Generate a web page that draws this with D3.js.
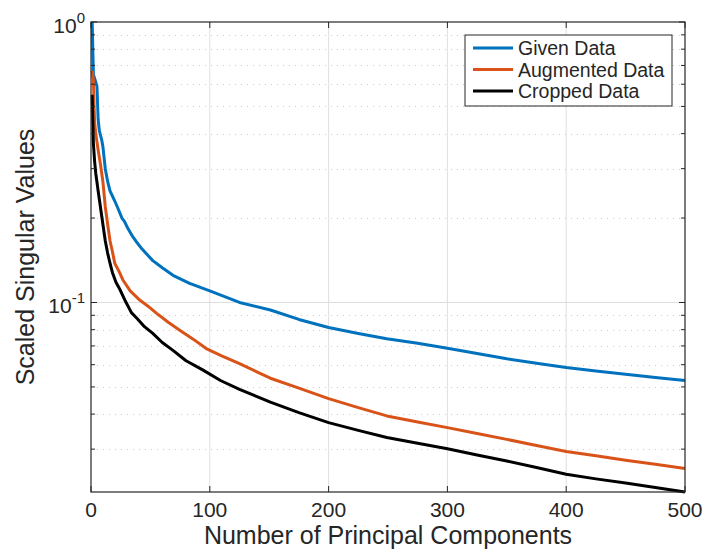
<!DOCTYPE html>
<html>
<head>
<meta charset="utf-8">
<script src="https://cdn.jsdelivr.net/npm/d3@7"></script>
<style>
  body { margin: 0; background: #fff; }
  text { font-family: 'Liberation Sans', Arial, sans-serif; fill: #262626; }
</style>
</head>
<body>
<svg width="707" height="550"></svg>
<script>
const width = 707, height = 550
const margin = { top: 22, right: 22, bottom: 58, left: 91 }

// data: [component, scaled singular value]
const givenData = [
  [1, 1.0], [2, 0.65], [3, 0.63], [5, 0.59], [6, 0.45], [7, 0.41], [9, 0.38], [10, 0.36],
  [12, 0.30], [14, 0.27], [16, 0.25], [20, 0.23], [23, 0.215], [26, 0.20], [28, 0.195],
  [31, 0.184], [35, 0.172], [38, 0.165], [43, 0.155], [48, 0.147], [52, 0.141], [60, 0.133],
  [69, 0.125], [83, 0.117], [100, 0.110], [125, 0.100], [151, 0.094], [175, 0.087],
  [200, 0.0814], [225, 0.0775], [249, 0.0743], [275, 0.0715], [300, 0.0687], [325, 0.0658],
  [350, 0.063], [375, 0.0607], [400, 0.0586], [425, 0.057], [450, 0.0555], [475, 0.054],
  [500, 0.0527]
]
const augmentedData = [
  [1, 0.67], [2, 0.62], [3, 0.44], [4, 0.40], [6, 0.35], [8, 0.31], [10, 0.27], [12, 0.22],
  [14, 0.19], [16, 0.166], [18, 0.152], [20, 0.138], [24, 0.128], [27, 0.12], [33, 0.110],
  [41, 0.102], [48, 0.097], [55, 0.0916], [65, 0.085], [75, 0.0795], [86, 0.074], [97, 0.0685],
  [110, 0.0645], [125, 0.0605], [140, 0.0565], [151, 0.0537], [175, 0.0495], [200, 0.0454],
  [225, 0.0422], [249, 0.0394], [275, 0.0375], [300, 0.0358], [325, 0.0341], [350, 0.0325],
  [375, 0.0309], [400, 0.0294], [425, 0.0284], [450, 0.0274], [475, 0.0265], [500, 0.0256]
]
const croppedData = [
  [1, 0.55], [2, 0.37], [3, 0.32], [4, 0.289], [6, 0.25], [8, 0.218], [10, 0.19], [12, 0.166],
  [14, 0.15], [16, 0.138], [18, 0.128], [21, 0.118], [24, 0.112], [29, 0.101], [34, 0.092],
  [39, 0.0875], [45, 0.082], [52, 0.0776], [60, 0.072], [69, 0.0675], [80, 0.062], [94, 0.0575],
  [109, 0.0527], [125, 0.049], [151, 0.0441], [175, 0.0405], [200, 0.0373], [225, 0.035],
  [249, 0.033], [275, 0.0315], [300, 0.0301], [325, 0.0286], [350, 0.0272], [375, 0.0258],
  [400, 0.0244], [425, 0.0235], [450, 0.0227], [475, 0.0219], [500, 0.0211]
]
const seriesNames = ['Given Data', 'Augmented Data', 'Cropped Data']
const seriesColors = ['#0072BD', '#D95319', '#000000']
const xTicks = [0, 100, 200, 300, 400, 500]
const yMajor = [1, 0.1]
const yMinor = [0.03, 0.04, 0.05, 0.06, 0.07, 0.08, 0.09, 0.2, 0.3, 0.4, 0.5, 0.6, 0.7, 0.8, 0.9]

const series = [givenData, augmentedData, croppedData]

const svg = d3.select('svg')
const x = d3.scaleLinear().domain([0, 500]).range([margin.left, width - margin.right])
const y = d3.scaleLog().domain([0.0211, 1]).range([height - margin.bottom, margin.top])

const x0 = x.range()[0], x1 = x.range()[1]
const yb = y.range()[0], yt = y.range()[1]

// grid
const grid = svg.append('g')
grid.selectAll('.vgrid')
  .data(xTicks.filter(d => d > 0 && d < 500))
  .enter().append('line')
  .attr('x1', d => x(d)).attr('x2', d => x(d))
  .attr('y1', yb).attr('y2', yt)
  .attr('stroke', '#dfdfdf').attr('stroke-width', 1)
grid.selectAll('.minor')
  .data(yMinor)
  .enter().append('line')
  .attr('x1', x0).attr('x2', x1)
  .attr('y1', d => Math.round(y(d)) + 0.5).attr('y2', d => Math.round(y(d)) + 0.5)
  .attr('stroke', '#cccccc').attr('stroke-width', 1).attr('stroke-dasharray', '1,5')
grid.selectAll('.hgrid')
  .data(yMajor.filter(d => d < 1))
  .enter().append('line')
  .attr('x1', x0).attr('x2', x1)
  .attr('y1', d => y(d)).attr('y2', d => y(d))
  .attr('stroke', '#dfdfdf').attr('stroke-width', 1)

// lines
const line = d3.line().x(d => x(d[0])).y(d => y(d[1]))
svg.append('g')
  .selectAll('path')
  .data(series)
  .enter().append('path')
  .attr('d', line)
  .attr('fill', 'none')
  .attr('stroke', (d, i) => seriesColors[i])
  .attr('stroke-width', 3)
  .attr('stroke-linejoin', 'round')

// box and ticks
const axes = svg.append('g').attr('stroke', '#262626')
axes.append('rect')
  .attr('x', x0).attr('y', yt).attr('width', x1 - x0).attr('height', yb - yt)
  .attr('fill', 'none').attr('stroke-width', 1.2)
xTicks.forEach(t => {
  axes.append('line').attr('x1', x(t)).attr('x2', x(t)).attr('y1', yb).attr('y2', yb - 6)
  axes.append('line').attr('x1', x(t)).attr('x2', x(t)).attr('y1', yt).attr('y2', yt + 6)
})
yMajor.concat(yMinor).forEach(t => {
  const len = yMajor.includes(t) ? 6 : 4
  axes.append('line').attr('x1', x0).attr('x2', x0 + len).attr('y1', y(t)).attr('y2', y(t))
  axes.append('line').attr('x1', x1).attr('x2', x1 - len).attr('y1', y(t)).attr('y2', y(t))
})

// tick labels
svg.append('g')
  .selectAll('text')
  .data(xTicks)
  .enter().append('text')
  .attr('x', d => x(d)).attr('y', 517)
  .attr('text-anchor', 'middle')
  .style('font-size', '21px')
  .text(d => d)

const yLabels = svg.append('g')
  .selectAll('text')
  .data(yMajor)
  .enter().append('text')
  .attr('x', x0 - 6).attr('y', d => y(d) + 11)
  .attr('text-anchor', 'end')
  .style('font-size', '21px')
yLabels.append('tspan').text('10')
yLabels.append('tspan')
  .attr('dy', -10)
  .style('font-size', '15px')
  .text(d => Math.round(Math.log10(d)) === 0 ? '0' : '-1')

// axis titles
svg.append('text')
  .attr('x', (x0 + x1) / 2).attr('y', 544)
  .attr('text-anchor', 'middle')
  .style('font-size', '25px')
  .text('Number of Principal Components')
svg.append('text')
  .attr('transform', `translate(34, ${(yt + yb) / 2}) rotate(-90)`)
  .attr('text-anchor', 'middle')
  .style('font-size', '25px')
  .text('Scaled Singular Values')

// legend
const legend = svg.append('g').attr('transform', 'translate(465, 35)')
legend.append('rect')
  .attr('width', 207).attr('height', 71)
  .attr('fill', '#fff').attr('stroke', '#262626').attr('stroke-width', 1)
const rows = legend.selectAll('.row')
  .data(seriesNames)
  .enter().append('g')
  .attr('transform', (d, i) => `translate(0, ${13 + i * 21.5})`)
rows.append('line')
  .attr('x1', 8).attr('x2', 48)
  .attr('stroke', (d, i) => seriesColors[i]).attr('stroke-width', 3)
rows.append('text')
  .attr('x', 53).attr('y', 7)
  .style('font-size', '19.5px')
  .text(d => d)
</script>
</body>
</html>
